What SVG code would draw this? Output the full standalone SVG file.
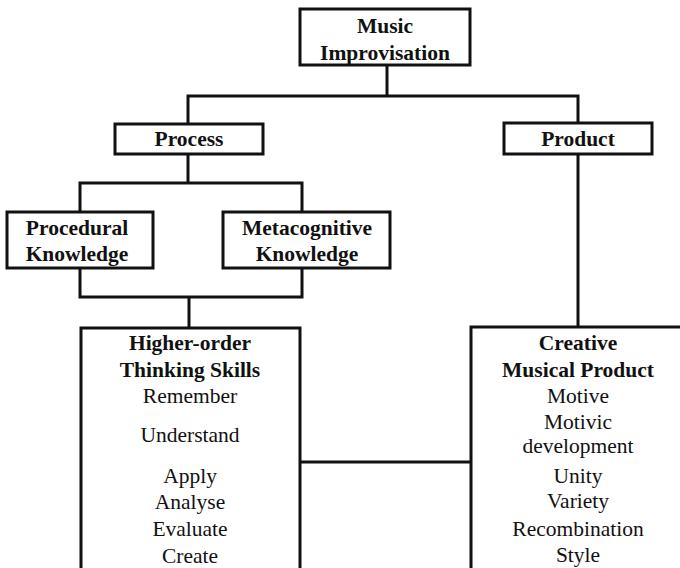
<svg xmlns="http://www.w3.org/2000/svg" width="680" height="568" viewBox="0 0 680 568">
  <style>
    .box { fill: #fff; stroke: #111; stroke-width: 3; }
    .wire { fill: none; stroke: #111; stroke-width: 3; }
    text { font-family: "Liberation Serif", "Times New Roman", serif; font-size: 21.5px; fill: #111; text-anchor: middle; }
    .b { font-weight: bold; }
  </style>
  <rect width="680" height="568" fill="#fff"/>

  <!-- connectors -->
  <g id="connectors" class="wire">
    <path d="M387,65 V96"/>
    <path d="M188,124 V96 H578 V123"/>
    <path d="M188,154 V183"/>
    <path d="M80,212 V183 H302 V212"/>
    <path d="M80,268 V297 H302 V268"/>
    <path d="M189,297 V328"/>
    <path d="M578,154 V327"/>
    <path d="M300,462 H471"/>
  </g>

  <g id="music-improvisation">
    <rect class="box" x="300" y="9" width="170" height="56"/>
    <text class="b" x="385" y="33">Music</text>
    <text class="b" x="385" y="60">Improvisation</text>
  </g>

  <g id="process">
    <rect class="box" x="115" y="124" width="148" height="30"/>
    <text class="b" x="189" y="146">Process</text>
  </g>

  <g id="product">
    <rect class="box" x="504" y="123" width="148" height="31"/>
    <text class="b" x="578" y="146">Product</text>
  </g>

  <g id="procedural-knowledge">
    <rect class="box" x="7" y="212" width="146" height="56"/>
    <text class="b" x="77" y="235">Procedural</text>
    <text class="b" x="77" y="261">Knowledge</text>
  </g>

  <g id="metacognitive-knowledge">
    <rect class="box" x="223" y="212" width="167" height="56"/>
    <text class="b" x="307" y="235">Metacognitive</text>
    <text class="b" x="307" y="261">Knowledge</text>
  </g>

  <g id="higher-order-thinking">
    <path class="box" d="M81,580 V328 H300 V580"/>
    <text class="b" x="190" y="350">Higher-order</text>
    <text class="b" x="190" y="377">Thinking Skills</text>
    <text x="190" y="403">Remember</text>
    <text x="190" y="442">Understand</text>
    <text x="190" y="483">Apply</text>
    <text x="190" y="509">Analyse</text>
    <text x="190" y="536">Evaluate</text>
    <text x="190" y="563">Create</text>
  </g>

  <g id="creative-musical-product">
    <path class="box" d="M471,580 V327 H690"/>
    <text class="b" x="578" y="350">Creative</text>
    <text class="b" x="578" y="377">Musical Product</text>
    <text x="578" y="403">Motive</text>
    <text x="578" y="429">Motivic</text>
    <text x="578" y="453">development</text>
    <text x="578" y="483">Unity</text>
    <text x="578" y="508">Variety</text>
    <text x="578" y="536">Recombination</text>
    <text x="578" y="562">Style</text>
  </g>
</svg>
